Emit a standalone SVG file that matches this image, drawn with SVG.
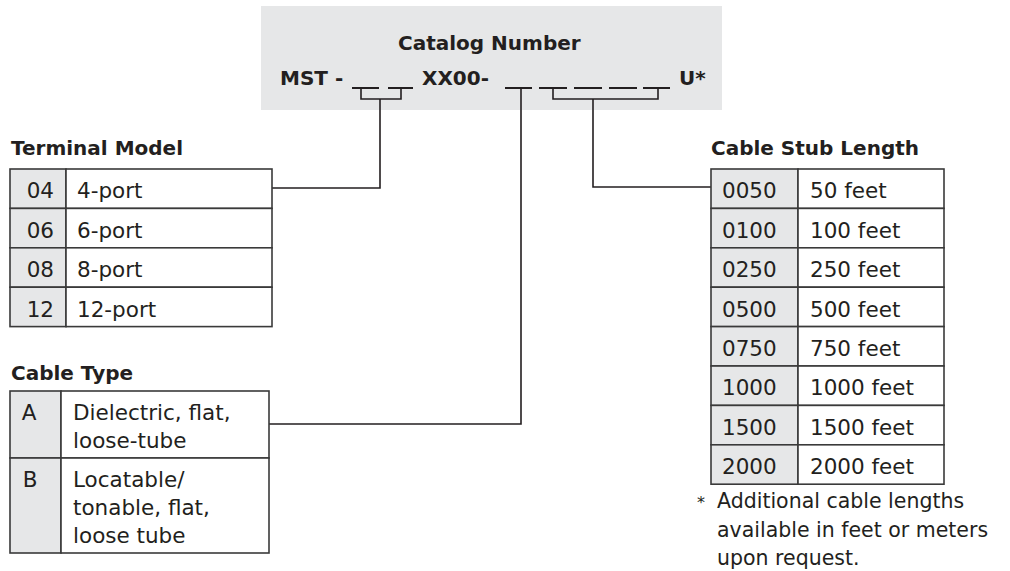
<svg xmlns="http://www.w3.org/2000/svg" width="1010" height="571" viewBox="0 0 1010 571">
<style>
.b{font-family:"DejaVu Sans","Liberation Sans",sans-serif;font-weight:bold;font-size:20px;fill:#231f20}
.t{font-family:"DejaVu Sans","Liberation Sans",sans-serif;font-weight:normal;font-size:21.5px;fill:#231f20}
.f{font-family:"DejaVu Sans","Liberation Sans",sans-serif;font-weight:normal;font-size:20.5px;fill:#231f20}
.r{text-anchor:end}
.m{text-anchor:middle}
.cell{fill:#ffffff;stroke:#3a3a3a;stroke-width:1.6}
.key{fill:#e6e7e8;stroke:#3a3a3a;stroke-width:1.6}
.ln{fill:none;stroke:#231f20;stroke-width:1.6}
.bl{fill:none;stroke:#231f20;stroke-width:2}
</style>
<rect width="1010" height="571" fill="#ffffff"/>
<g id="catalog">
<rect x="261" y="6" width="461" height="104" fill="#e6e7e8"/>
<text class="b" x="398" y="50">Catalog Number</text>
<text class="b" x="280" y="85">MST -</text>
<text class="b" x="422" y="85">XX00-</text>
<text class="b" x="679" y="85">U*</text>
<path class="bl" d="M352,88H379M388,88H413M505,88H532M539,88H567M574,88H602M609,88H637M643,88H670"/>
<path class="ln" d="M361,88V99H401V88M553,88V99H658V88"/>
</g>
<g id="connectors">
<path class="ln" d="M380,99V188H272"/>
<path class="ln" d="M521,88V424H269"/>
<path class="ln" d="M593,99V187H711"/>
</g>
<g id="terminal-model">
<text class="b" x="11" y="155">Terminal Model</text>
<rect class="key" x="10" y="169" width="56" height="39.4"/><rect class="cell" x="66" y="169" width="206" height="39.4"/>
<rect class="key" x="10" y="208.4" width="56" height="39.4"/><rect class="cell" x="66" y="208.4" width="206" height="39.4"/>
<rect class="key" x="10" y="247.8" width="56" height="39.4"/><rect class="cell" x="66" y="247.8" width="206" height="39.4"/>
<rect class="key" x="10" y="287.2" width="56" height="39.4"/><rect class="cell" x="66" y="287.2" width="206" height="39.4"/>
<text class="t r" x="54" y="198.3">04</text><text class="t" x="77" y="198.3">4-port</text>
<text class="t r" x="54" y="237.7">06</text><text class="t" x="77" y="237.7">6-port</text>
<text class="t r" x="54" y="277.1">08</text><text class="t" x="77" y="277.1">8-port</text>
<text class="t r" x="54" y="316.5">12</text><text class="t" x="77" y="316.5">12-port</text>
</g>
<g id="cable-type">
<text class="b" x="11" y="380">Cable Type</text>
<rect class="key" x="10" y="391" width="51" height="67"/><rect class="cell" x="61" y="391" width="208" height="67"/>
<rect class="key" x="10" y="458" width="51" height="95"/><rect class="cell" x="61" y="458" width="208" height="95"/>
<text class="t m" x="29" y="420">A</text>
<text class="t" x="73" y="420">Dielectric, flat,</text>
<text class="t" x="73" y="448">loose-tube</text>
<text class="t m" x="30" y="487">B</text>
<text class="t" x="73" y="487">Locatable/</text>
<text class="t" x="73" y="515">tonable, flat,</text>
<text class="t" x="73" y="543">loose tube</text>
</g>
<g id="cable-stub-length">
<text class="b" x="711" y="155">Cable Stub Length</text>
<rect class="key" x="711" y="169" width="87" height="39.4"/><rect class="cell" x="798" y="169" width="146" height="39.4"/>
<rect class="key" x="711" y="208.4" width="87" height="39.4"/><rect class="cell" x="798" y="208.4" width="146" height="39.4"/>
<rect class="key" x="711" y="247.8" width="87" height="39.4"/><rect class="cell" x="798" y="247.8" width="146" height="39.4"/>
<rect class="key" x="711" y="287.2" width="87" height="39.4"/><rect class="cell" x="798" y="287.2" width="146" height="39.4"/>
<rect class="key" x="711" y="326.6" width="87" height="39.4"/><rect class="cell" x="798" y="326.6" width="146" height="39.4"/>
<rect class="key" x="711" y="366" width="87" height="39.4"/><rect class="cell" x="798" y="366" width="146" height="39.4"/>
<rect class="key" x="711" y="405.4" width="87" height="39.4"/><rect class="cell" x="798" y="405.4" width="146" height="39.4"/>
<rect class="key" x="711" y="444.8" width="87" height="39.4"/><rect class="cell" x="798" y="444.8" width="146" height="39.4"/>
<text class="t" x="722" y="198.3">0050</text><text class="t" x="810" y="198.3">50 feet</text>
<text class="t" x="722" y="237.7">0100</text><text class="t" x="810" y="237.7">100 feet</text>
<text class="t" x="722" y="277.1">0250</text><text class="t" x="810" y="277.1">250 feet</text>
<text class="t" x="722" y="316.5">0500</text><text class="t" x="810" y="316.5">500 feet</text>
<text class="t" x="722" y="355.9">0750</text><text class="t" x="810" y="355.9">750 feet</text>
<text class="t" x="722" y="395.3">1000</text><text class="t" x="810" y="395.3">1000 feet</text>
<text class="t" x="722" y="434.7">1500</text><text class="t" x="810" y="434.7">1500 feet</text>
<text class="t" x="722" y="474.1">2000</text><text class="t" x="810" y="474.1">2000 feet</text>
</g>
<g id="footnote">
<text class="f" x="697" y="508" style="font-size:16px">*</text>
<text class="f" x="717" y="508">Additional cable lengths</text>
<text class="f" x="717" y="536.5">available in feet or meters</text>
<text class="f" x="717" y="565">upon request.</text>
</g>
</svg>
